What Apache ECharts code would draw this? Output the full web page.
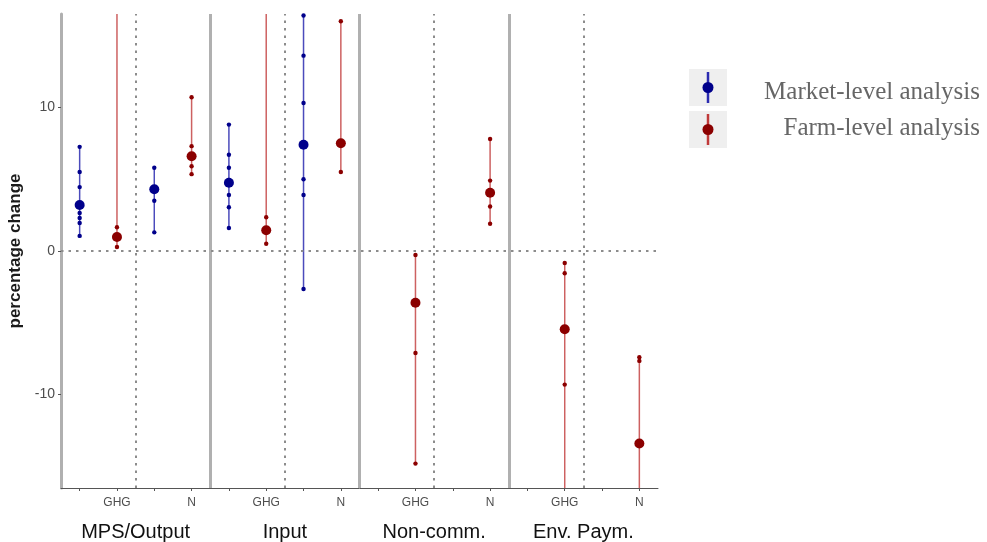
<!DOCTYPE html>
<html>
<head>
<meta charset="utf-8">
<script src="https://cdn.jsdelivr.net/npm/echarts@6/dist/echarts.min.js"></script>
<style>
  html, body { margin: 0; padding: 0; background: #fff; }
  #main { width: 987px; height: 542px; }
</style>
</head>
<body>
<div id="main"></div>
<script>
var groups = ['MPS/Output', 'Input', 'Non-comm.', 'Env. Paym.'];
var targets = ['GHG', 'N'];
var levels = ['Market-level analysis', 'Farm-level analysis'];
var yTicks = [-10, 0, 10];

// one entry per group x target: MPS GHG, MPS N, Input GHG, Input N, Non-comm GHG, ...
var marketMid  = [3.2, 4.3, 4.75, 7.4, null, null, null, null];
var marketLow  = [1.05, 1.3, 1.6, -2.65, null, null, null, null];
var marketHigh = [7.25, 5.8, 8.8, 16.4, null, null, null, null];
var marketPts  = [[7.25, 5.5, 4.45, 2.65, 2.3, 1.95, 1.05], [5.8, 3.5, 1.3],
                  [8.8, 6.7, 5.8, 4.95, 3.9, 3.05, 1.6], [16.4, 13.6, 10.3, 5.0, 3.9, -2.65],
                  [], [], [], []];

var farmMid  = [0.98, 6.6, 1.45, 7.5, -3.6, 4.05, -5.45, -13.4];
var farmLow  = [0.28, 5.35, 0.5, 5.5, -14.8, 1.9, -20, -20];
var farmHigh = [20, 10.7, 20, 16.0, -0.28, 7.8, -0.84, -7.4];
var farmPts  = [[1.65, 0.28], [10.7, 7.3, 5.9, 5.35], [2.35, 0.5], [16.0, 5.5],
                [-0.28, -7.1, -14.8], [7.8, 4.9, 3.1, 1.9], [-0.84, -1.55, -9.3], [-7.4, -7.65]];

var colors = ['#00008b', '#8b0000'];
var lineColors = ['#2b2bb0', '#c03a3a'];

function buildEntries(mid, low, high, pts, offset) {
    var out = [];
    for (var i = 0; i < mid.length; i++) {
        if (mid[i] === null) continue;
        var x = Math.floor(i / 2) * 4 + (i % 2) * 2 + offset;
        out.push({value: [x, mid[i], low[i], high[i]], pts: pts[i]});
    }
    return out;
}

var marketData = buildEntries(marketMid, marketLow, marketHigh, marketPts, 0.5);
var farmData = buildEntries(farmMid, farmLow, farmHigh, farmPts, 1.5);

function makeRender(entries, color, lineColor, lineOpacity) {
    return function (params, api) {
        var cs = params.coordSys;
        var clampY = function (y) { return Math.max(cs.y, Math.min(cs.y + cs.height, y)); };
        var x = api.value(0);
        var top = api.coord([x, api.value(3)]);
        var bot = api.coord([x, api.value(2)]);
        var children = [{
            type: 'line',
            shape: {x1: top[0], y1: clampY(top[1]), x2: bot[0], y2: clampY(bot[1])},
            style: {stroke: lineColor, lineWidth: 1.5, opacity: lineOpacity}
        }];
        var pts = entries[params.dataIndex].pts;
        for (var j = 0; j < pts.length; j++) {
            var p = api.coord([x, pts[j]]);
            if (p[1] < cs.y || p[1] > cs.y + cs.height) continue;
            children.push({type: 'circle', shape: {cx: p[0], cy: p[1], r: 2.2}, style: {fill: color}});
        }
        var m = api.coord([x, api.value(1)]);
        children.push({type: 'circle', shape: {cx: m[0], cy: m[1], r: 5}, style: {fill: color}});
        return {type: 'group', children: children};
    };
}

function legendIcon(color, lineColor) {
    var svg = '<svg xmlns="http://www.w3.org/2000/svg" width="38" height="37">' +
        '<rect width="38" height="37" fill="#efefef"/>' +
        '<line x1="19" y1="3" x2="19" y2="34" stroke="' + lineColor + '" stroke-width="2.5"/>' +
        '<circle cx="19" cy="18.5" r="5.5" fill="' + color + '"/></svg>';
    return 'image://data:image/svg+xml;charset=utf-8,' + encodeURIComponent(svg);
}

// divider lines between groups (solid) and between targets (dotted)
var dividers = [];
var dotted = {color: '#8c8c8c', type: [2.5, 5], width: 2};
for (var g = 0; g < groups.length; g++) {
    dividers.push({xAxis: g * 4 + 2, lineStyle: dotted});
    if (g > 0) dividers.push({xAxis: g * 4, lineStyle: {color: '#b0b0b0', type: 'solid', width: 3}});
}
dividers.push({yAxis: 0, lineStyle: dotted});

var tickPos = [];
var labelPos = [];
for (var k = 0; k < groups.length * 4; k++) {
    tickPos.push(k + 0.5);
    if (k % 2 === 1) labelPos.push(k + 0.5);
}

var legendFont = {width: 248, align: 'right', fontFamily: 'Liberation Serif', fontSize: 25, color: '#666'};

var myChart = echarts.init(document.getElementById('main'));
var option = {
    animation: false,
    grid: {left: 61, right: 329, top: 14, bottom: 54, outerBoundsMode: 'none'},
    legend: {
        orient: 'vertical',
        left: 689,
        top: 69,
        padding: 0,
        itemWidth: 38,
        itemHeight: 37,
        itemGap: 5,
        selectedMode: false,
        data: [
            {name: levels[0], icon: legendIcon(colors[0], lineColors[0])},
            {name: levels[1], icon: legendIcon(colors[1], lineColors[1])}
        ],
        formatter: function (n) { return (n === levels[0] ? '{a|' : '{b|') + n + '}'; },
        textStyle: {
            rich: {
                a: Object.assign({padding: [9, 0, 0, 0]}, legendFont),
                b: Object.assign({padding: [0, 0, 3, 0]}, legendFont)
            }
        }
    },
    xAxis: [{
        type: 'value',
        min: 0,
        max: groups.length * 4,
        axisLine: {show: true, onZero: false, lineStyle: {color: '#555', width: 1}},
        axisTick: {show: true, customValues: tickPos, length: 3, lineStyle: {color: '#555'}},
        axisLabel: {
            customValues: labelPos,
            margin: 9,
            fontFamily: 'Liberation Sans',
            fontSize: 12,
            color: '#4d4d4d',
            formatter: function (v) { return targets[Math.round((v - 1.5) / 2) % 2]; }
        },
        splitLine: {show: false}
    }, {
        type: 'category',
        data: groups,
        position: 'bottom',
        axisLine: {show: false},
        axisTick: {show: false},
        axisLabel: {margin: 34, fontFamily: 'Liberation Sans', fontSize: 20, color: '#111'},
        splitLine: {show: false}
    }],
    yAxis: {
        type: 'value',
        min: -16.5,
        max: 16.5,
        name: 'percentage change',
        nameLocation: 'middle',
        nameGap: 28,
        nameTextStyle: {fontFamily: 'Liberation Sans', fontWeight: 'bold', fontSize: 17, color: '#1a1a1a'},
        axisLine: {show: true, lineStyle: {color: '#b0b0b0', width: 3}},
        axisTick: {show: true, customValues: yTicks, length: 3, lineStyle: {color: '#555'}},
        axisLabel: {customValues: yTicks, margin: 6, fontFamily: 'Liberation Sans', fontSize: 14, color: '#4d4d4d'},
        splitLine: {show: false}
    },
    series: [{
        type: 'line',
        data: [],
        z: 1,
        markLine: {silent: true, symbol: 'none', label: {show: false}, animation: false, data: dividers}
    }, {
        name: levels[0],
        type: 'custom',
        z: 3,
        itemStyle: {color: colors[0]},
        renderItem: makeRender(marketData, colors[0], lineColors[0], 0.85),
        data: marketData
    }, {
        name: levels[1],
        type: 'custom',
        z: 3,
        itemStyle: {color: colors[1]},
        renderItem: makeRender(farmData, colors[1], lineColors[1], 0.8),
        data: farmData
    }]
};
myChart.setOption(option);
</script>
</body>
</html>
